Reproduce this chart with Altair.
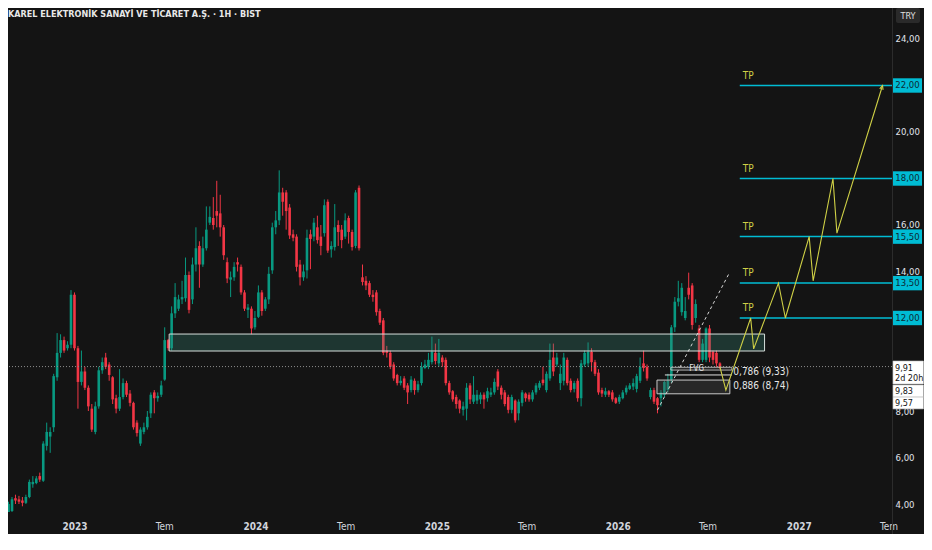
import altair as alt
import pandas as pd

FONT = "Liberation Sans Narrow, DejaVu Sans Condensed, Roboto, sans-serif"
BG = "#141414"
UP = "#089981"
DOWN = "#f23645"
CYAN = "#00bcd4"
YEL = "#cfd046"
W, H = 884, 504

# ---- weekly candles ----
LAST_BAR = "2026-07-26"
OPEN = [3.4, 3.7, 4.25, 4.2, 4.15, 4.05, 4.3, 4.85, 4.9, 5.2,
        5.0, 6.5, 6.9, 7.3, 9.45, 10.5, 11.05, 10.7, 10.85, 13.0,
        10.7, 9.25, 9.7, 9.0, 8.1, 7.1, 8.2, 9.75, 10.3, 10.0,
        9.45, 8.55, 8.1, 8.6, 9.2, 8.75, 8.35, 7.5, 6.6, 7.1,
        7.3, 7.9, 8.8, 8.55, 8.7, 9.35, 11.05, 10.7, 12.2, 12.4,
        12.8, 12.85, 13.85, 12.8, 14.3, 15.1, 14.3, 15.0, 16.1, 16.3,
        16.6, 16.5, 15.9, 14.4, 13.65, 13.75, 14.4, 14.2, 13.1, 12.35,
        12.4, 11.6, 12.05, 13.1, 12.4, 12.8, 14.05, 15.9, 16.2, 17.4,
        17.4, 16.75, 15.6, 15.5, 14.3, 13.75, 14.05, 15.6, 15.5, 15.9,
        15.5, 15.65, 17.0, 14.95, 15.05, 16.0, 15.8, 15.5, 16.3, 15.7,
        15.1, 17.6, 13.75, 13.6, 13.5, 13.0, 13.1, 12.3,
        11.9, 10.6, 10.5, 10.0, 9.55, 9.2, 9.4, 9.1, 8.9, 9.3,
        8.9, 9.2, 9.85, 9.9, 10.1, 10.5, 10.05, 10.3, 10.2, 9.2,
        8.85, 8.6, 8.45, 8.05, 8.1, 9.1, 8.4, 8.45, 8.5, 8.7,
        8.55, 8.7, 8.8, 9.7, 9.0, 8.8, 8.6, 8.05, 8.45, 7.9,
        8.35, 8.75, 8.7, 8.5, 8.8, 9.0, 9.35, 8.9, 9.4, 10.3,
        10.0, 9.2, 9.3, 10.2, 9.3, 8.95, 9.3, 8.55, 10.0, 10.05,
        10.55, 10.1, 9.65, 8.9, 8.7, 8.85, 8.8, 8.55, 8.4, 8.55,
        8.8, 8.95, 9.05, 8.95, 9.3, 10.05, 9.9, 8.6, 8.9, 8.55,
        8.55, 8.7, 8.9, 9.35, 11.6, 12.7, 12.25, 12.0, 13.3, 13.4,
        12.0, 11.55, 10.2, 10.2, 11.55, 10.55, 10.5, 10.05]
CLOSE = [4.0, 4.2, 4.15, 4.1, 4.05, 4.3, 4.95, 4.95, 5.1, 5.05,
         6.6, 7.1, 7.1, 9.5, 10.5, 11.05, 10.6, 10.85, 13.0, 10.7,
         9.25, 9.7, 9.0, 8.2, 7.2, 8.2, 9.75, 10.1, 9.9, 9.55,
         8.5, 8.1, 8.6, 9.2, 8.7, 8.35, 7.3, 7.05, 7.2, 7.3,
         7.75, 8.7, 8.55, 8.65, 9.1, 11.05, 10.7, 12.2, 12.9, 12.8,
         12.9, 13.85, 12.35, 14.3, 15.0, 14.3, 15.0, 15.8, 16.35, 16.0,
         16.4, 15.9, 14.7, 13.7, 13.75, 14.2, 14.3, 13.1, 12.4, 12.45,
         11.55, 12.0, 13.1, 12.3, 12.8, 13.9, 15.9, 16.2, 17.4, 17.0,
         16.6, 15.55, 15.45, 14.2, 13.75, 14.0, 15.45, 15.4, 16.1, 15.35,
         15.1, 16.85, 14.9, 15.1, 15.9, 15.7, 15.35, 16.2, 15.7, 15.05,
         17.4, 15.0, 13.55, 13.4, 13.0, 12.9, 12.25, 11.8,
         10.5, 10.5, 9.9, 9.4, 9.2, 9.3, 9.0, 8.8, 9.35, 8.9,
         9.15, 9.9, 10.0, 10.2, 10.55, 10.15, 10.5, 10.1, 9.2, 8.8,
         8.5, 8.3, 8.1, 8.2, 9.0, 8.5, 8.7, 8.7, 8.7, 8.5,
         8.85, 8.8, 9.25, 9.05, 8.7, 8.3, 8.05, 8.6, 7.6, 8.4,
         8.8, 8.55, 8.5, 8.8, 9.1, 9.2, 9.2, 9.6, 10.2, 9.7,
         10.3, 9.6, 10.3, 9.2, 8.9, 9.2, 8.55, 10.05, 10.5, 10.55,
         10.1, 9.6, 8.8, 8.75, 8.85, 8.7, 8.5, 8.35, 8.6, 8.8,
         9.0, 9.1, 9.2, 9.5, 9.9, 9.85, 9.4, 8.9, 8.4, 8.25,
         8.8, 9.25, 9.3, 11.6, 12.7, 12.85, 13.3, 12.3, 13.0, 11.7,
         12.6, 10.2, 10.9, 11.55, 10.3, 10.2, 10.05, 9.85]
HIGH = [4.1, 4.3, 4.4, 4.35, 4.3, 4.4, 5.05, 5.2, 5.2, 5.35,
        6.7, 7.5, 7.3, 9.6, 11.35, 11.3, 11.2, 11.0, 13.2, 13.1,
        10.8, 10.6, 9.9, 9.1, 8.3, 8.4, 9.9, 10.3, 10.5, 10.1,
        9.5, 8.7, 9.8, 9.4, 9.3, 8.9, 8.4, 7.6, 7.3, 7.5,
        8.0, 8.8, 8.9, 8.8, 9.3, 11.6, 11.1, 12.5, 13.5, 13.0,
        13.6, 14.6, 14.0, 14.6, 15.9, 15.3, 15.5, 16.8, 16.8, 17.2,
        17.9, 17.3, 16.0, 14.6, 14.0, 14.4, 14.6, 14.3, 13.2, 12.6,
        12.5, 12.3, 13.4, 13.2, 12.9, 14.2, 16.1, 16.6, 18.35, 17.6,
        17.5, 16.9, 15.8, 15.6, 14.5, 14.3, 15.8, 15.8, 16.3, 16.4,
        16.0, 17.1, 17.1, 15.3, 16.9, 16.2, 16.0, 16.5, 16.4, 15.8,
        17.5, 17.7, 14.3, 13.8, 13.6, 13.2, 13.2, 12.4,
        12.0, 10.8, 10.6, 10.1, 9.6, 9.5, 9.5, 9.2, 9.5, 9.4,
        9.3, 10.1, 10.2, 10.5, 11.2, 10.9, 11.1, 10.4, 10.3, 9.3,
        8.9, 8.7, 8.5, 8.4, 9.2, 9.2, 9.5, 8.9, 8.8, 8.8,
        9.0, 9.0, 9.4, 9.8, 9.1, 8.9, 8.7, 8.7, 8.5, 8.5,
        8.9, 8.8, 8.8, 8.9, 9.2, 9.3, 9.9, 9.7, 10.9, 10.9,
        10.5, 10.0, 10.5, 10.3, 9.4, 9.3, 9.4, 10.2, 10.6, 10.95,
        10.7, 10.2, 9.8, 9.0, 9.0, 8.9, 8.9, 8.6, 8.7, 8.9,
        9.1, 9.2, 9.4, 9.6, 10.3, 10.6, 10.0, 9.0, 9.0, 8.6,
        8.9, 9.3, 9.6, 11.7, 12.9, 13.6, 13.5, 12.9, 13.95, 13.5,
        12.8, 11.7, 11.1, 11.6, 11.7, 10.6, 10.6, 10.1]
LOW = [3.3, 3.6, 4.0, 4.0, 3.9, 4.0, 4.25, 4.7, 4.85, 4.95,
       4.95, 6.3, 6.2, 7.1, 9.3, 10.3, 10.5, 10.6, 10.7, 10.6,
       8.1, 9.1, 8.9, 8.0, 7.1, 7.0, 8.1, 9.6, 9.8, 9.3,
       8.3, 7.9, 8.0, 8.5, 8.6, 8.2, 7.2, 6.9, 6.5, 7.0,
       7.2, 7.7, 7.9, 8.4, 8.6, 9.3, 10.6, 10.6, 12.0, 12.3,
       12.6, 12.7, 12.2, 12.6, 14.0, 13.3, 14.2, 14.9, 16.0, 15.8,
       15.9, 15.5, 14.5, 13.5, 12.9, 13.6, 14.0, 13.0, 12.3, 12.0,
       11.3, 11.5, 12.0, 12.1, 12.3, 12.6, 13.9, 15.6, 16.0, 16.4,
       15.8, 15.4, 15.3, 14.0, 13.4, 13.6, 13.7, 14.1, 15.3, 15.2,
       14.7, 15.5, 14.8, 14.6, 14.9, 15.1, 15.0, 15.4, 15.2, 14.9,
       15.0, 14.9, 13.4, 13.2, 12.9, 12.7, 12.1, 11.7,
       10.4, 10.3, 9.8, 9.3, 9.1, 9.1, 8.9, 8.3, 8.8, 8.7,
       8.8, 9.1, 9.8, 9.8, 10.0, 10.0, 9.9, 9.9, 9.1, 8.7,
       8.4, 8.1, 7.9, 7.8, 7.6, 8.3, 8.3, 8.3, 8.3, 8.1,
       8.4, 8.6, 8.7, 8.9, 8.5, 8.2, 7.9, 7.9, 7.5, 7.6,
       8.2, 8.4, 8.4, 8.4, 8.7, 8.9, 9.1, 8.8, 9.3, 9.5,
       9.9, 8.9, 9.1, 9.1, 8.8, 8.8, 8.4, 8.2, 9.9, 9.9,
       9.7, 9.5, 8.7, 8.6, 8.6, 8.6, 8.4, 8.3, 8.3, 8.5,
       8.7, 8.9, 8.9, 8.8, 9.2, 9.7, 9.3, 8.5, 8.3, 7.9,
       8.2, 8.6, 8.8, 9.2, 11.4, 12.5, 12.1, 11.9, 12.8, 11.5,
       11.8, 10.1, 10.1, 10.1, 10.1, 10.0, 9.9, 9.8]

# ---- drawings ----
CURRENT = 9.91
ZONE = {"x": "2023-07-11", "x2": "2026-10-24", "y": 11.31, "y2": 10.58}
FIB_BOX = {"x": "2026-03-21", "x2": "2026-08-15", "y": 9.33, "y2": 8.74}
FVG_BOX = {"x": "2026-04-18", "x2": "2026-08-19", "y": 9.88, "y2": 9.76}
FIB_LINE = {"x": "2026-04-06", "x2": "2026-08-19", "y": 9.55}
FIB_LABEL_DATES = ["2026-08-22", "2026-08-22"]
FIB_LABEL_Y = [9.68, 9.08]
FIB_LABELS = ["0,786 (9,33)", "0,886 (8,74)"]
DIAG_DATES = ["2026-03-22", "2026-08-14"]
DIAG_Y = [8.04, 13.94]
PATH_DATES = ["2026-07-26", "2026-08-07", "2026-09-26", "2026-10-02", "2026-11-21",
              "2026-12-05", "2027-01-22", "2027-01-30", "2027-03-11", "2027-03-19",
              "2027-06-19"]
PATH_Y = [9.9, 8.9, 12.0, 10.67, 13.5, 12.0, 15.5, 13.6, 18.0, 15.65, 22.0]
TP_LEVELS = [22.0, 18.0, 15.5, 13.5, 12.0]
TP_START = "2026-09-04"
TP_END = "2027-08-31"
TP_TEXT_DATE = "2026-09-10"
Y_TICKS = [4, 6, 8, 14, 16, 20, 24]
TITLE = "KAREL ELEKTRONİK SANAYİ VE TİCARET A.Ş. · 1H · BIST"

# ---- frames ----
n = len(OPEN)
dates = pd.date_range(end=pd.Timestamp(LAST_BAR), periods=n, freq="7D")
candles = pd.DataFrame({"date": dates, "open": OPEN, "close": CLOSE,
                        "high": HIGH, "low": LOW})

def box_df(b):
    return pd.DataFrame({"x": [pd.Timestamp(b["x"])], "x2": [pd.Timestamp(b["x2"])],
                         "y": [b["y"]], "y2": [b.get("y2", b["y"])]})

def fmt(v):
    return f"{v:.2f}".replace(".", ",")

x_scale = alt.Scale(domain=[alt.DateTime(year=2022, month=8, date=30),
                            alt.DateTime(year=2027, month=6, date=28)])
y_scale = alt.Scale(domain=[3.656, 25.333], nice=False, zero=False)

x_axis = alt.Axis(
    values=[alt.DateTime(year=yy, month=mm, date=1) for yy in range(2023, 2028) for mm in (1, 7)],
    labelExpr="month(datum.value) == 0 ? timeFormat(datum.value, '%Y') : 'Tem'",
    grid=False, domain=False, ticks=False, labelColor="#d1d4dc", labelFont=FONT,
    labelFontSize=10, labelPadding=9,
    labelFontWeight={"condition": {"test": "month(datum.value) == 0", "value": "bold"}, "value": "normal"},
    title=None)
y_axis = alt.Axis(orient="right", values=Y_TICKS,
                  labelExpr="replace(format(datum.value, '.2f'), '.', ',')",
                  grid=False, domain=False, ticks=False, labelColor="#e0e3eb",
                  labelFont=FONT, labelFontSize=9.5, labelPadding=3, title=None)

def X(f):
    return alt.X(f, type="temporal", scale=x_scale, axis=x_axis, title=None)

def Y(f):
    return alt.Y(f, type="quantitative", scale=y_scale, axis=y_axis, title=None)

color = alt.condition("datum.close >= datum.open", alt.value(UP), alt.value(DOWN))

wicks = alt.Chart(candles).mark_rule(strokeWidth=1, clip=True).encode(
    x=X("date"), y=Y("low"), y2="high", color=color)
bodies = alt.Chart(candles).mark_bar(size=2.6, clip=True).encode(
    x=X("date"), y=Y("open"), y2="close", color=color)

cur_line = alt.Chart(pd.DataFrame({"y": [CURRENT]})).mark_rule(
    color="#8c8c8c", strokeDash=[1, 2], strokeWidth=1).encode(y=Y("y"))

zone = alt.Chart(box_df(ZONE)).mark_rect(
    fill="#3a8f7c", fillOpacity=0.28, stroke="#d6dedb", strokeWidth=1, clip=True).encode(
    x=X("x"), x2="x2", y=Y("y"), y2="y2")
fib_box = alt.Chart(box_df(FIB_BOX)).mark_rect(
    fill="#5a5a5a", fillOpacity=0.3, stroke="#c8c8c8", strokeWidth=1, clip=True).encode(
    x=X("x"), x2="x2", y=Y("y"), y2="y2")
fvg_box = alt.Chart(box_df(FVG_BOX)).mark_rect(
    fill="#777777", fillOpacity=0.2, stroke="#d0d0d0", strokeWidth=0.8, clip=True).encode(
    x=X("x"), x2="x2", y=Y("y"), y2="y2")
fvg_text = alt.Chart(pd.DataFrame({"x": [pd.Timestamp("2026-06-09")], "y": [9.82], "t": ["FVG"]})).mark_text(
    color="#e8e8e8", font=FONT, fontSize=8, align="center", baseline="middle").encode(
    x=X("x"), y=Y("y"), text="t")
fib_line = alt.Chart(box_df(FIB_LINE)).mark_rule(color="#e0e0e0", strokeWidth=1, clip=True).encode(
    x=X("x"), x2="x2", y=Y("y"))
fib_labels = alt.Chart(pd.DataFrame({"x": pd.to_datetime(FIB_LABEL_DATES), "y": FIB_LABEL_Y, "t": FIB_LABELS})).mark_text(
    color="#e6e6e6", font=FONT, fontSize=10, align="left", baseline="middle").encode(
    x=X("x"), y=Y("y"), text="t")

diag = alt.Chart(pd.DataFrame({"x": pd.to_datetime(DIAG_DATES), "y": DIAG_Y})).mark_line(
    color="#d9d9d9", strokeDash=[3, 3], strokeWidth=1, clip=True).encode(x=X("x"), y=Y("y"))

tp_df = pd.DataFrame({"x": [pd.Timestamp(TP_START)] * len(TP_LEVELS),
                      "x2": [pd.Timestamp(TP_END)] * len(TP_LEVELS),
                      "tx": [pd.Timestamp(TP_TEXT_DATE)] * len(TP_LEVELS),
                      "y": TP_LEVELS,
                      "ty": [v + 0.42 for v in TP_LEVELS],
                      "yt": [v + 0.31 for v in TP_LEVELS],
                      "yb": [v - 0.31 for v in TP_LEVELS],
                      "lab": [fmt(v) for v in TP_LEVELS],
                      "tp": ["TP"] * len(TP_LEVELS)})
tp_lines = alt.Chart(tp_df).mark_rule(color=CYAN, strokeWidth=1.5, clip=True).encode(
    x=X("x"), x2="x2", y=Y("y"))
tp_text = alt.Chart(tp_df).mark_text(color=YEL, font=FONT, fontSize=10,
                                     align="left", baseline="middle", clip=True).encode(
    x=X("tx"), y=Y("ty"), text="tp")

path_df = pd.DataFrame({"x": pd.to_datetime(PATH_DATES), "y": PATH_Y, "o": list(range(len(PATH_Y)))})
path = alt.Chart(path_df).mark_line(color=YEL, strokeWidth=1.1, clip=True).encode(
    x=X("x"), y=Y("y"), order="o")
arrow = alt.Chart(path_df.tail(1)).mark_point(
    shape="M-0.55,1.3L0,0L0.55,1.3", filled=False, stroke=YEL, strokeWidth=1.1,
    size=40, angle=16, opacity=1).encode(x=X("x"), y=Y("y"))

# ---- price scale tags ----
sep = alt.Chart(pd.DataFrame({"a": [0]})).mark_rule(color="#2c2c2c", strokeWidth=1).encode(
    x=alt.value(W + 0.5), y=alt.value(0), y2=alt.value(H + 22))
tp_tags = alt.Chart(tp_df).mark_rect(fill=CYAN).encode(
    x=alt.value(W + 1), x2=alt.value(W + 30), y=Y("yt"), y2="yb")
tp_tag_text = alt.Chart(tp_df).mark_text(color="#0d2a33", font=FONT, fontSize=9.5,
                                         align="center", baseline="middle").encode(
    x=alt.value(W + 15.5), y=Y("y"), text="lab")

TAG_TOP = [10.15, 9.12, 8.60]
TAG_BOT = [9.16, 8.60, 8.09]
tags = alt.Chart(pd.DataFrame({"y": TAG_TOP, "y2": TAG_BOT})).mark_rect(
    fill="#ffffff", stroke="#bdbdbd", strokeWidth=0.6).encode(
    x=alt.value(W + 1), x2=alt.value(W + 31.5), y=Y("y"), y2="y2")
TAG_TEXT = ["9,91", "2d 20h", "9,83", "9,57"]
TAG_TEXT_Y = [9.85, 9.40, 8.86, 8.34]
tag_text = alt.Chart(pd.DataFrame({"y": TAG_TEXT_Y, "t": TAG_TEXT})).mark_text(
    color="#131313", font=FONT, fontSize=9, align="left", baseline="middle").encode(
    x=alt.value(W + 3), y=Y("y"), text="t")

title_df = pd.DataFrame({"t": [TITLE]})
title = alt.Chart(title_df).mark_text(color="#e8e8e8", font=FONT, fontSize=9, fontWeight="bold",
                                      align="left", baseline="middle").encode(
    x=alt.value(0), y=alt.value(6), text="t")
try_box = alt.Chart(pd.DataFrame({"t": ["TRY"]})).mark_rect(
    fill="#2a2a2a", cornerRadius=2).encode(
    x=alt.value(W + 4), x2=alt.value(W + 28), y=alt.value(0), y2=alt.value(15))
try_text = alt.Chart(pd.DataFrame({"t": ["TRY"]})).mark_text(
    color="#e0e0e0", font=FONT, fontSize=9, align="center", baseline="middle").encode(
    x=alt.value(W + 16), y=alt.value(7.5), text="t")

chart = alt.layer(
    wicks, bodies, cur_line, zone, fvg_box, fib_line, fib_box, fvg_text, diag,
    tp_lines, path, arrow, tp_text, fib_labels,
    sep, tp_tags, tp_tag_text, tags, tag_text, title, try_box, try_text
).properties(
    width=W, height=H,
    padding={"left": 0, "top": 0, "right": 32, "bottom": 22},
    autosize=alt.AutoSizeParams(type="none"),
    background=BG
).configure_view(strokeWidth=0)

chart.save("out.html", embed_options={"renderer": "svg", "actions": False})
